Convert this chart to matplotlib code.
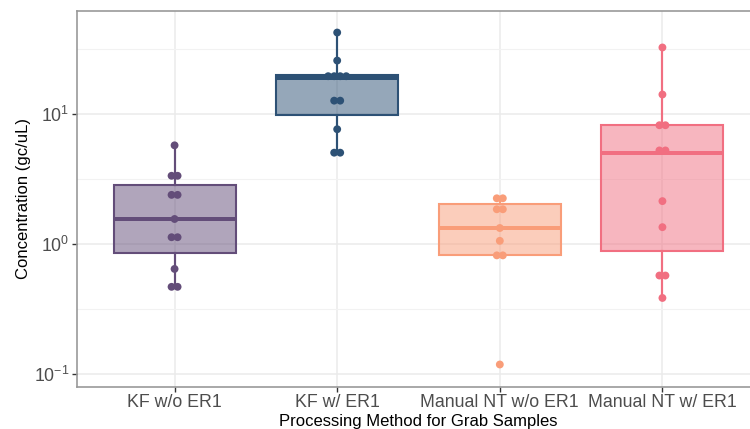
import numpy as np
import matplotlib
matplotlib.use("Agg")
import matplotlib.pyplot as plt
from matplotlib import cbook

plt.rcParams['font.family'] = ['Liberation Sans', 'DejaVu Sans']
plt.rcParams['mathtext.fontset'] = 'custom'
plt.rcParams['mathtext.rm'] = 'Liberation Sans'
plt.rcParams['mathtext.it'] = 'Liberation Sans:italic'

# --------------------------------
# data (gc/uL)
categories = ['KF w/o ER1', 'KF w/ ER1', 'Manual NT w/o ER1', 'Manual NT w/ ER1']
kf_no_er1 = [5.74, 3.35, 3.35, 2.39, 2.39, 1.56, 1.13, 1.13, 0.645, 0.47, 0.47]
kf_er1 = [42.2, 25.7, 20.0, 20.0, 19.0, 19.0, 12.65, 12.65, 7.63, 5.04, 5.04]
nt_no_er1 = [2.3, 2.2, 2.02, 1.70, 1.33, 1.06, 0.83, 0.81, 0.119]
nt_er1 = [32.4, 14.1, 8.19, 8.19, 5.5, 5.0, 2.14, 1.35, 0.574, 0.574, 0.386]
groups = [kf_no_er1, kf_er1, nt_no_er1, nt_er1]
colors = ['#634D79', '#2D5175', '#F99D79', '#F16F81']


# --------------------------------
def dot_stack(vals, binwidth=0.08, spacing=0.037):
    # crude dotplot: bin in log space, put equal-bin dots side by side
    logs = np.sort(np.log10(vals))
    offs, ys = [], []
    i = 0
    while i < len(logs):
        j = i
        while j < len(logs) and logs[j] - logs[i] < binwidth:
            j += 1
        chunk = logs[i:j]
        c = (chunk[0] + chunk[-1]) / 2
        n = len(chunk)
        offs += list((np.arange(n) - (n - 1) / 2) * spacing)
        ys += [10 ** c] * n
        i = j
    return np.array(offs), np.array(ys)


fig = plt.figure(figsize=(7.5, 4.29), dpi=100)
ax = fig.add_axes([77 / 750, 1 - 386.7 / 429, (760 - 77) / 750, (386.7 - 10.7) / 429])
ax.set_yscale('log')
ax.set_xlim(0.4, 4.6)
ax.set_ylim(10 ** -1.095, 10 ** 1.793)

# grid
ax.set_yticks([0.1, 1, 10])
ax.set_yticks([10 ** -0.5, 10 ** 0.5, 10 ** 1.5], minor=True)
ax.set_xticks(range(1, 5))
ax.set_xticklabels(categories)
ax.grid(which='major', color='#EBEBEB', lw=1.1, zorder=0)
ax.grid(which='minor', axis='y', color='#F2F2F2', lw=0.8, zorder=0)
ax.set_axisbelow(True)
ax.tick_params(which='minor', length=0)
ax.tick_params(which='major', length=3.5, width=1, color='#333333', labelsize=12.8, labelcolor='#4D4D4D', pad=2)
for s in ax.spines.values():
    s.set_color('#999999')
    s.set_linewidth(1.2)

# boxes, stats computed on log10 values like scale_y_log10
for k, (vals, col) in enumerate(zip(groups, colors)):
    st = cbook.boxplot_stats(np.log10(vals), whis=1.5)[0]
    for key in ['med', 'q1', 'q3', 'whislo', 'whishi']:
        st[key] = 10 ** st[key]
    st['fliers'] = []
    ax.bxp([st], positions=[k + 1], widths=0.75, patch_artist=True, showfliers=False, showcaps=False,
           boxprops=dict(facecolor=col, alpha=0.5, edgecolor='none'),
           whiskerprops=dict(color=col, lw=1.5), medianprops=dict(color=col, lw=2.8),
           manage_ticks=False, zorder=2)
    ax.bxp([st], positions=[k + 1], widths=0.75, patch_artist=True, showfliers=False, showcaps=False,
           boxprops=dict(facecolor='none', edgecolor=col, lw=1.5),
           whiskerprops=dict(color=col, lw=1.5), medianprops=dict(color=col, lw=2.8),
           manage_ticks=False, zorder=3)
    dx, dy = dot_stack(vals)
    ax.scatter(k + 1 + dx, dy, s=32, color=col, edgecolors='none', zorder=4)

ax.set_xlabel('Processing Method for Grab Samples', fontsize=12, labelpad=2)
ax.set_ylabel('Concentration (gc/uL)', fontsize=12, labelpad=2)

fig.savefig('out.png', dpi=100)
